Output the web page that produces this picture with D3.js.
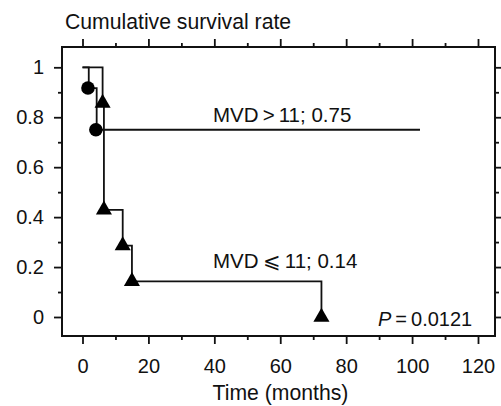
<!DOCTYPE html>
<html><head><meta charset="utf-8">
<script src="https://cdn.jsdelivr.net/npm/d3@7"></script>
<style>
html,body{margin:0;padding:0;background:#fff;}
text{font-family:"Liberation Sans",Arial,Helvetica,sans-serif;fill:#111;}
</style></head>
<body>
<script>
// Data
const highTimes = [1.9, 4.3];          // MVD>11 event times (months)
const highSurv  = [0.917, 0.75];
const highEnd   = 102.4;
const lowTimes  = [6.1, 6.5, 12.2, 15.0, 72.5]; // MVD<=11 event times
const lowSurv   = [0.857, 0.429, 0.286, 0.143, 0];
const xTicks = [0, 20, 40, 60, 80, 100, 120];
const xMinor = [10, 30, 50, 70, 90, 110];
const yTicks = [0, 0.2, 0.4, 0.6, 0.8, 1];
const yMinor = [0.1, 0.3, 0.5, 0.7, 0.9];
const yTickLabels = ["0", "0.2", "0.4", "0.6", "0.8", "1"];

const W = 501, H = 406;
const L = 62, R = 495, T = 47, B = 336;
const x = d3.scaleLinear().domain([0, 120]).range([82.5, 478]);
const y = d3.scaleLinear().domain([0, 1]).range([317, 67.3]);
const FS = 20;

const svg = d3.select("body").append("svg").attr("width", W).attr("height", H);

// frame
svg.append("rect").attr("x", L).attr("y", T).attr("width", R - L).attr("height", B - T)
  .attr("fill", "none").attr("stroke", "#111").attr("stroke-width", 2);

function styleAxis(g) {
  g.select(".domain").remove();
  g.selectAll("line").attr("stroke", "#111").attr("stroke-width", 1.8);
  g.selectAll("text").attr("font-size", FS).attr("font-family", '"Liberation Sans",Arial,sans-serif').attr("fill", "#111");
}
// bottom major with labels
svg.append("g").attr("transform", `translate(0,${B})`)
  .call(d3.axisBottom(x).tickValues(xTicks).tickSize(8).tickPadding(14.5).tickFormat(d3.format("d")))
  .call(styleAxis);
svg.append("g").attr("transform", `translate(0,${B})`)
  .call(d3.axisBottom(x).tickValues(xMinor).tickSize(4).tickFormat(""))
  .call(styleAxis);
// top
svg.append("g").attr("transform", `translate(0,${T})`)
  .call(d3.axisTop(x).tickValues(xTicks).tickSize(8).tickFormat(""))
  .call(styleAxis);
svg.append("g").attr("transform", `translate(0,${T})`)
  .call(d3.axisTop(x).tickValues(xMinor).tickSize(4).tickFormat(""))
  .call(styleAxis);
// left
svg.append("g").attr("transform", `translate(${L},0)`)
  .call(d3.axisLeft(y).tickValues(yTicks).tickSize(8).tickPadding(10).tickFormat((d, i) => yTickLabels[i]))
  .call(styleAxis);
svg.append("g").attr("transform", `translate(${L},0)`)
  .call(d3.axisLeft(y).tickValues(yMinor).tickSize(4).tickFormat(""))
  .call(styleAxis);
// right
svg.append("g").attr("transform", `translate(${R},0)`)
  .call(d3.axisRight(y).tickValues(yTicks).tickSize(8).tickFormat(""))
  .call(styleAxis);
svg.append("g").attr("transform", `translate(${R},0)`)
  .call(d3.axisRight(y).tickValues(yMinor).tickSize(4).tickFormat(""))
  .call(styleAxis);

// curves
const line = d3.line().x(d => x(d[0])).y(d => y(d[1])).curve(d3.curveStepAfter);
const highPts = [[0, 1]].concat(highTimes.map((t, i) => [t, highSurv[i]]), [[highEnd, highSurv[highSurv.length - 1]]]);
const lowPts = [[0, 1]].concat(lowTimes.map((t, i) => [t, lowSurv[i]]));
svg.append("path").attr("d", line(highPts)).attr("fill", "none").attr("stroke", "#111").attr("stroke-width", 1.8);
svg.append("path").attr("d", line(lowPts)).attr("fill", "none").attr("stroke", "#111").attr("stroke-width", 1.8);

// markers
svg.selectAll(".circ").data(highTimes.map((t, i) => [t, highSurv[i]])).join("circle")
  .attr("cx", d => x(d[0]) - 0.8).attr("cy", d => y(d[1])).attr("r", 6.8).attr("fill", "#000");
svg.selectAll(".tri").data(lowTimes.map((t, i) => [t, lowSurv[i]])).join("path")
  .attr("transform", d => `translate(${x(d[0])},${y(d[1])})`)
  .attr("d", d3.symbol().type(d3.symbolTriangle).size(112)).attr("fill", "#000");

// texts
svg.append("text").attr("x", 65).attr("y", 29).attr("font-size", 21.2).text("Cumulative survival rate");
svg.append("text").attr("x", 280.5).attr("y", 400).attr("text-anchor", "middle").attr("font-size", 21.2).text("Time (months)");
svg.append("text").attr("x", 213).attr("y", 121.5).attr("font-size", 20.5).text("MVD\u2009>\u200911; 0.75");
svg.append("text").attr("x", 213).attr("y", 268).attr("font-size", 20.5).text("MVD\u2009\u2A7D\u200911; 0.14");
const p = svg.append("text").attr("x", 378).attr("y", 325.5).attr("font-size", FS);
p.append("tspan").attr("font-style", "italic").text("P");
p.append("tspan").text("\u2009=\u20090.0121");
</script>
</body></html>
